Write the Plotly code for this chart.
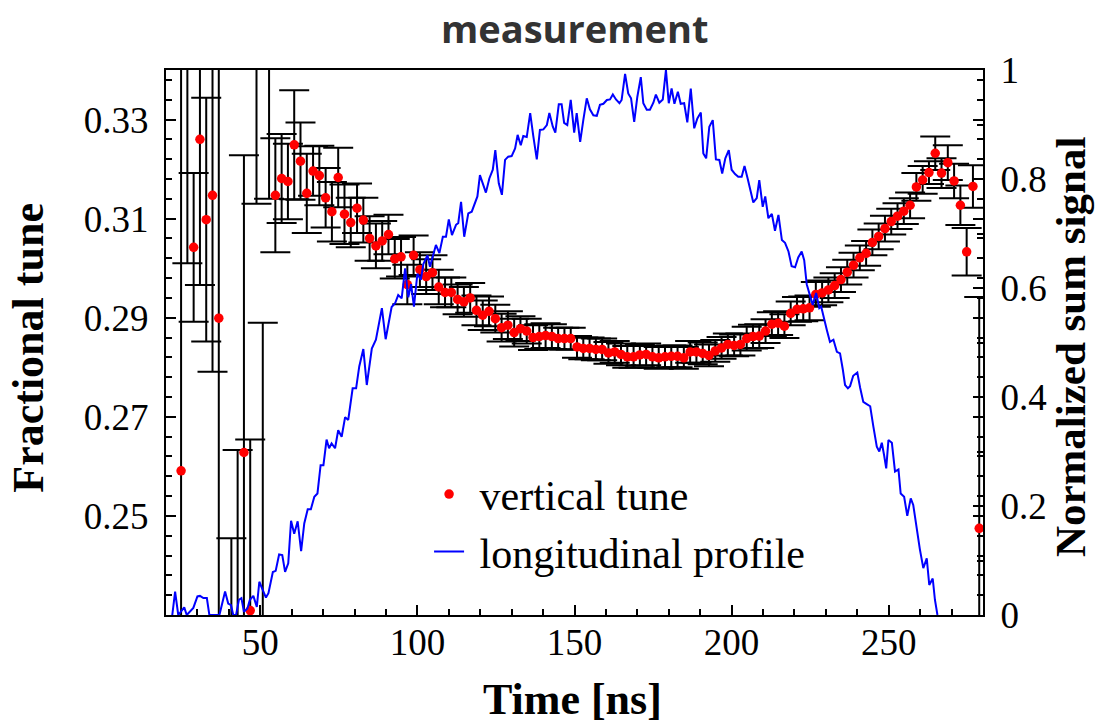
import plotly.graph_objects as go

# ---------------- data ----------------
tune_time = [24.8, 26.8, 28.8, 30.8, 32.8, 34.8, 36.8, 38.8, 40.8, 42.8, 44.8, 46.8, 48.8, 50.8, 52.8,
             54.8, 56.8, 58.8, 60.8, 62.8, 64.8, 66.8, 68.8, 70.8, 72.8, 74.8, 76.8, 78.8, 80.8,
             82.8, 84.8, 86.8, 88.8, 90.8, 92.8, 94.8, 96.8, 98.8, 100.8, 102.8, 104.8, 106.8,
             108.8, 110.8, 112.8, 114.8, 116.8, 118.8, 120.8, 122.8, 124.8, 126.8, 128.8, 130.8,
             132.8, 134.8, 136.8, 138.8, 140.8, 142.8, 144.8, 146.8, 148.8, 150.8, 152.8, 154.8,
             156.8, 158.8, 160.8, 162.8, 164.8, 166.8, 168.8, 170.8, 172.8, 174.8, 176.8, 178.8,
             180.8, 182.8, 184.8, 186.8, 188.8, 190.8, 192.8, 194.8, 196.8, 198.8, 200.8, 202.8,
             204.8, 206.8, 208.8, 210.8, 212.8, 214.8, 216.8, 218.8, 220.8, 222.8, 224.8, 226.8,
             228.8, 230.8, 232.8, 234.8, 236.8, 238.8, 240.8, 242.8, 244.8, 246.8, 248.8, 250.8,
             252.8, 254.8, 256.8, 258.8, 260.8, 262.8, 264.8, 266.8, 268.8, 270.8, 272.8, 274.8,
             276.8, 278.8]

tune_value = [0.2591, 0.3600, 0.3042, 0.3260, 0.3098, 0.3147, 0.2899, None, 0.2000, 0.2100, 0.2628,
              0.2309, 0.3600, 0.2100, 0.3600,
              0.3147, 0.3181, 0.3175, 0.3249, 0.3216, 0.3151, 0.3196, 0.3187, 0.3142, 0.3114,
              0.3183, 0.3109, 0.3092, 0.3121,
              0.3097, 0.3060, 0.3045, 0.3055, 0.3068, 0.3019, 0.3023, 0.2967, 0.3026, 0.2997,
              0.2983, 0.2991, 0.2962,
              0.2951, 0.2951, 0.2937, 0.2932, 0.2940, 0.2915, 0.2905, 0.2913, 0.2898, 0.2880,
              0.2885, 0.2870,
              0.2878, 0.2873, 0.2860, 0.2862, 0.2864, 0.2862, 0.2858, 0.2858, 0.2858, 0.2841,
              0.2838, 0.2838,
              0.2836, 0.2836, 0.2829, 0.2831, 0.2826, 0.2821, 0.2821, 0.2825, 0.2826, 0.2821,
              0.2819, 0.2821,
              0.2822, 0.2822, 0.2819, 0.2831, 0.2831, 0.2828, 0.2824, 0.2833, 0.2839, 0.2846,
              0.2844, 0.2846,
              0.2858, 0.2862, 0.2863, 0.2873, 0.2887, 0.2889, 0.2883, 0.2909, 0.2917, 0.2918,
              0.2920, 0.2947,
              0.2950, 0.2956, 0.2965, 0.2977, 0.2992, 0.3006, 0.3021, 0.3030, 0.3052, 0.3064,
              0.3080, 0.3094,
              0.3105, 0.3115, 0.3127, 0.3164, 0.3178, 0.3193, 0.3232, 0.3192, 0.3213, 0.3176,
              0.3127, 0.3033,
              0.3165, 0.2475]

tune_error = [0.1200, 0.0590, 0.0150, 0.0294, 0.0246, 0.0356, 0.1200, None, 0.0455, 0.0533, 0.0600,
              0.0345, 0.0470, 0.0790, 0.0460,
              0.0115, 0.0090, 0.0076, 0.0110, 0.0078, 0.0080, 0.0050, 0.0060, 0.0060, 0.0060,
              0.0060, 0.0060, 0.0050, 0.0050,
              0.0045, 0.0045, 0.0045, 0.0040, 0.0040, 0.0040, 0.0040, 0.0040, 0.0040, 0.0035,
              0.0035, 0.0035, 0.0035,
              0.0030, 0.0030, 0.0030, 0.0030, 0.0030, 0.0030, 0.0030, 0.0030, 0.0028, 0.0028,
              0.0028, 0.0028,
              0.0025, 0.0025, 0.0025, 0.0025, 0.0025, 0.0025, 0.0022, 0.0022, 0.0022, 0.0022,
              0.0022, 0.0022,
              0.0022, 0.0022, 0.0022, 0.0022, 0.0022, 0.0022, 0.0022, 0.0022, 0.0022, 0.0022,
              0.0022, 0.0022,
              0.0022, 0.0022, 0.0022, 0.0022, 0.0022, 0.0022, 0.0022, 0.0022, 0.0022, 0.0022,
              0.0022, 0.0022,
              0.0024, 0.0024, 0.0024, 0.0024, 0.0024, 0.0024, 0.0024, 0.0024, 0.0025, 0.0025,
              0.0025, 0.0025,
              0.0025, 0.0025, 0.0025, 0.0025, 0.0025, 0.0025, 0.0025, 0.0025, 0.0026, 0.0026,
              0.0026, 0.0026,
              0.0026, 0.0026, 0.0026, 0.0028, 0.0028, 0.0023, 0.0034, 0.0030, 0.0035, 0.0035,
              0.0040, 0.0048,
              0.0043, 0.0467]

profile_time = [22.0, 22.9, 23.9, 25.8, 26.6, 27.9, 28.7, 30.0, 30.8, 31.9, 33.0, 33.8, 37.0, 38.8,
                39.8, 40.7, 41.4, 42.3, 43.2, 44.0, 44.8, 45.9, 46.7, 47.8, 48.9, 49.7, 51.0, 51.8,
                52.6, 54.0, 54.9, 56.0, 57.0, 57.9, 58.9, 59.8, 60.8, 61.9, 63.0, 64.0, 65.1, 66.1,
                67.2, 68.2, 69.2, 70.1, 71.1, 71.9, 72.7, 73.8, 74.8, 75.9, 77.0, 78.0, 79.4, 80.5,
                81.5, 82.8, 83.9, 85.5, 86.8, 88.7, 89.9, 91.8, 92.9, 93.9, 95.0, 96.1, 97.1, 98.0,
                98.9, 100.0, 101.1, 101.9, 103.2, 104.0, 105.1, 105.9, 107.0, 108.1, 109.1, 110.0,
                111.0, 112.3, 113.0, 113.9, 114.9, 116.2, 117.3, 118.3, 119.1, 119.9, 120.8, 121.8,
                122.9, 124.0, 124.8, 125.9, 126.9, 127.9, 128.9, 130.0, 131.1, 131.9, 132.9, 133.7,
                134.8, 135.9, 136.9, 138.0, 139.0, 140.1, 141.2, 142.0, 143.1, 143.9, 145.0, 145.9,
                146.7, 147.7, 148.8, 149.9, 150.7, 151.8, 152.8, 153.9, 154.9, 156.0, 157.1, 158.1,
                159.2, 160.3, 161.3, 162.2, 163.2, 164.3, 165.0, 166.1, 167.1, 168.0, 169.0, 170.0,
                171.1, 171.9, 173.0, 174.0, 175.1, 175.9, 177.0, 178.1, 179.1, 180.0, 180.9, 181.8,
                182.9, 183.8, 184.9, 185.9, 187.0, 188.1, 189.1, 190.2, 191.0, 191.9, 192.9, 194.0,
                195.0, 196.1, 197.0, 198.0, 199.1, 200.0, 201.1, 202.1, 203.2, 204.1, 205.1, 206.2,
                206.9, 208.0, 208.8, 209.9, 210.7, 211.7, 212.8, 213.8, 214.9, 216.0, 217.0, 218.1,
                219.1, 220.2, 221.2, 222.3, 223.1, 223.9, 224.7, 225.8, 226.9, 227.9, 228.5, 229.2,
                230.3, 231.3, 232.4, 233.5, 234.5, 235.4, 236.1, 237.0, 237.7, 238.7, 240.0, 240.9,
                241.9, 243.0, 244.1, 245.1, 246.2, 247.0, 247.8, 248.5, 249.2, 249.9, 251.0, 252.0,
                253.1, 253.8, 254.9, 255.9, 257.0, 257.8, 258.9, 259.9, 261.0, 262.1, 262.9, 264.0,
                264.7, 265.5]

profile_value = [0.000, 0.043, 0.000, 0.014, 0.000, 0.009, 0.013, 0.034, 0.035, 0.031, 0.031, 0.000,
                 0.000, 0.043, 0.021, 0.018, 0.000, 0.000, 0.028, 0.031, 0.006, 0.012, 0.028, 0.035,
                 0.015, 0.061, 0.043, 0.032, 0.040, 0.079, 0.081, 0.111, 0.110, 0.079, 0.095, 0.173,
                 0.149, 0.172, 0.117, 0.168, 0.194, 0.194, 0.217, 0.223, 0.275, 0.275, 0.322, 0.306,
                 0.315, 0.306, 0.339, 0.327, 0.363, 0.358, 0.416, 0.416, 0.456, 0.488, 0.422, 0.489,
                 0.505, 0.563, 0.506, 0.565, 0.572, 0.587, 0.581, 0.636, 0.583, 0.607, 0.566, 0.626,
                 0.615, 0.644, 0.660, 0.639, 0.662, 0.679, 0.664, 0.694, 0.694, 0.726, 0.697, 0.716,
                 0.719, 0.758, 0.694, 0.737, 0.740, 0.758, 0.768, 0.807, 0.792, 0.775, 0.801, 0.817,
                 0.853, 0.792, 0.771, 0.835, 0.841, 0.842, 0.856, 0.881, 0.862, 0.879, 0.877, 0.921,
                 0.878, 0.836, 0.890, 0.891, 0.899, 0.921, 0.896, 0.885, 0.937, 0.937, 0.903, 0.899,
                 0.945, 0.885, 0.921, 0.868, 0.908, 0.948, 0.928, 0.917, 0.916, 0.936, 0.938, 0.945,
                 0.946, 0.955, 0.946, 0.939, 0.945, 0.993, 0.957, 0.948, 0.905, 0.951, 0.987, 0.939,
                 0.927, 0.927, 0.940, 0.955, 0.940, 0.946, 1.000, 0.939, 0.966, 0.938, 0.960, 0.938,
                 0.939, 0.904, 0.966, 0.893, 0.911, 0.922, 0.847, 0.838, 0.896, 0.908, 0.836, 0.835,
                 0.810, 0.838, 0.853, 0.817, 0.809, 0.804, 0.804, 0.824, 0.801, 0.777, 0.757, 0.765,
                 0.798, 0.749, 0.768, 0.728, 0.736, 0.705, 0.734, 0.688, 0.683, 0.667, 0.640, 0.638,
                 0.656, 0.667, 0.651, 0.607, 0.589, 0.569, 0.591, 0.563, 0.566, 0.547, 0.523, 0.501,
                 0.505, 0.483, 0.480, 0.450, 0.422, 0.416, 0.420, 0.439, 0.445, 0.417, 0.391, 0.387,
                 0.383, 0.346, 0.309, 0.300, 0.316, 0.294, 0.269, 0.321, 0.316, 0.263, 0.267, 0.223,
                 0.217, 0.182, 0.214, 0.202, 0.156, 0.121, 0.086, 0.104, 0.055, 0.067, 0.028, 0.000]

x_ticks = [50, 100, 150, 200, 250]
y_ticks = [0.25, 0.27, 0.29, 0.31, 0.33]
y_tick_text = ["0.25", "0.27", "0.29", "0.31", "0.33"]
y2_ticks = [0, 0.2, 0.4, 0.6, 0.8, 1]
y2_tick_text = ["0", "0.2", "0.4", "0.6", "0.8", "1"]

# ---------------- figure ----------------
SERIF = "Liberation Serif"
TICKFONT = dict(family=SERIF, size=37, color="black")
TITLEFONT = dict(family=SERIF, size=44, color="black")
NBSP = "\u00a0"

fig = go.Figure()

fig.add_trace(go.Scatter(
    x=tune_time, y=tune_value, mode="markers", name=NBSP + "vertical tune",
    marker=dict(color="#ff0000", size=9.5),
    error_y=dict(type="data", array=tune_error, visible=True, color="black", thickness=2, width=15),
    yaxis="y", legendrank=1,
))
fig.add_trace(go.Scatter(
    x=profile_time, y=profile_value, mode="lines", name=NBSP + "longitudinal profile",
    line=dict(color="#0000ff", width=2),
    yaxis="y2", legendrank=2,
))

fig.update_layout(
    width=1097, height=727,
    margin=dict(l=166, r=114, t=70, b=112),
    paper_bgcolor="white", plot_bgcolor="white",
    showlegend=True,
    legend=dict(x=0.322, y=0.284, xanchor="left", yanchor="top",
                font=dict(family=SERIF, size=42, color="black"),
                bgcolor="rgba(0,0,0,0)", itemwidth=30, tracegroupgap=0),
    xaxis=dict(range=[20, 280], tickmode="array", tickvals=x_ticks,
               ticks="inside", ticklen=10, tickwidth=2, tickcolor="black",
               minor=dict(tickmode="linear", tick0=20, dtick=10, ticks="inside", ticklen=6,
                          tickwidth=1.5, tickcolor="black"),
               showline=True, linewidth=2, linecolor="black", mirror=True,
               showgrid=False, zeroline=False, tickfont=TICKFONT, ticklabelstandoff=-6),
    yaxis=dict(range=[0.23, 0.34], tickmode="array", tickvals=y_ticks, ticktext=y_tick_text,
               ticks="inside", ticklen=10, tickwidth=2, tickcolor="black",
               minor=dict(tickmode="linear", tick0=0.23, dtick=0.004, ticks="inside", ticklen=6,
                          tickwidth=1.5, tickcolor="black"),
               showline=True, linewidth=2, linecolor="black", mirror="ticks",
               showgrid=False, zeroline=False, tickfont=TICKFONT, ticklabelstandoff=8),
    yaxis2=dict(range=[0, 1], overlaying="y", side="right", tickmode="array",
                tickvals=y2_ticks, ticktext=y2_tick_text,
                ticks="inside", ticklen=10, tickwidth=2, tickcolor="black",
                minor=dict(tickmode="linear", tick0=0, dtick=0.1, ticks="inside", ticklen=6,
                           tickwidth=1.5, tickcolor="black"),
                showline=True, linewidth=2, linecolor="black",
                showgrid=False, zeroline=False, tickfont=TICKFONT, ticklabelstandoff=8),
    annotations=[
        dict(text="<b>measurement</b>", xref="paper", yref="paper", x=0.5, y=1.077,
             xanchor="center", yanchor="middle", showarrow=False,
             font=dict(family="Open Sans", size=38, color="#333333")),
        dict(text="<b>Time [ns]</b>", xref="paper", yref="paper", x=0.497, y=-0.2035,
             xanchor="center", yanchor="bottom", showarrow=False, font=TITLEFONT),
        dict(text="<b>Fractional tune</b>", xref="paper", yref="paper", x=-0.168, y=0.49,
             xanchor="center", yanchor="middle", showarrow=False, textangle=-90, font=TITLEFONT),
        dict(text="<b>Normalized sum signal</b>", xref="paper", yref="paper", x=1.108, y=0.492,
             xanchor="center", yanchor="middle", showarrow=False, textangle=-90,
             font=dict(family=SERIF, size=43, color="black")),
    ],
)

fig.write_html("out.html")
